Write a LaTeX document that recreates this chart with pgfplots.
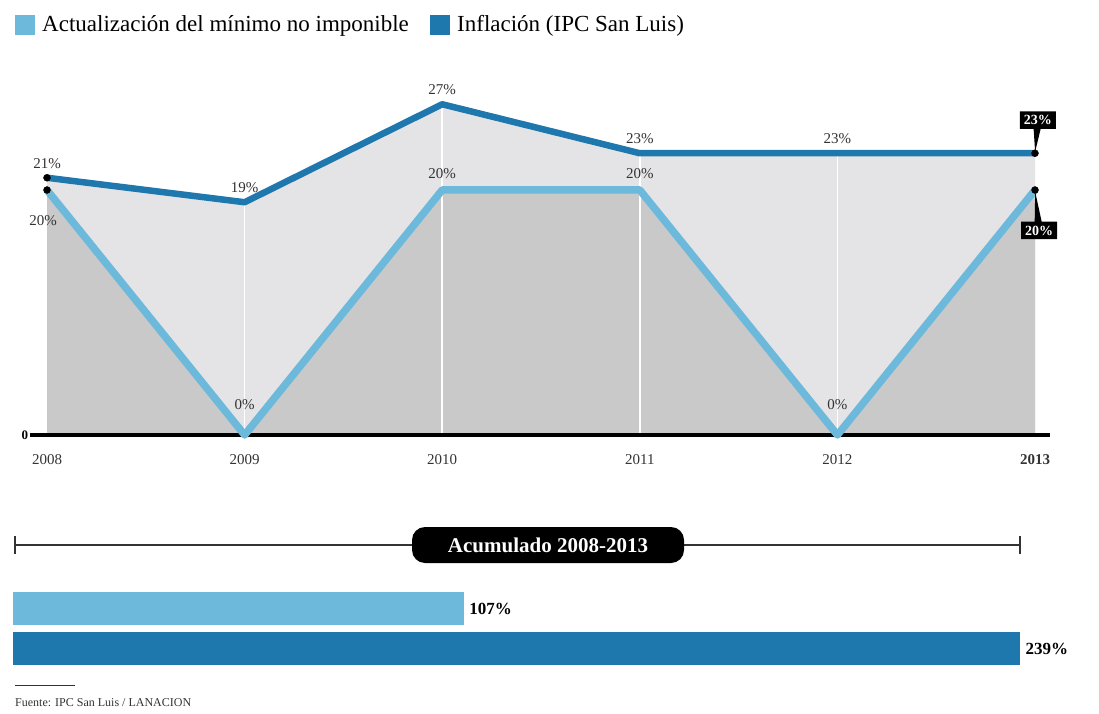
\documentclass[border=0pt]{standalone}
\usepackage{pgfplots}
\pgfplotsset{compat=1.18}
\usepackage{fontspec}
\setmainfont{Liberation Serif}
\usetikzlibrary{shapes.callouts}
\definecolor{lblue}{HTML}{6DB9DC}
\definecolor{dblue}{HTML}{1E77AD}
\definecolor{lgray}{HTML}{E4E4E6}
\definecolor{dgray}{HTML}{C9C9C9}
\pgfplotsset{
    pct/.style={nodes near coords={\pgfmathprintnumber{\pgfplotspointmeta}\%}},
    /pgf/number format/assume math mode=true,
}

\begin{document}
\begin{tikzpicture}
\path[use as bounding box] (0pt,0pt) rectangle (1099pt,713pt);

% legend
\fill[lblue] (15pt,678pt) rectangle (35pt,698pt);
\node[anchor=west, font=\fontsize{23}{23}\selectfont, inner sep=0pt] at (42pt,687pt) {Actualización del mínimo no imponible};
\fill[dblue] (430pt,678pt) rectangle (450pt,698pt);
\node[anchor=west, font=\fontsize{23}{23}\selectfont, inner sep=0pt] at (457pt,687pt) {Inflación (IPC San Luis)};

% yearly line chart
\begin{axis}[
    at={(47pt,278pt)}, anchor=south west,
    scale only axis, width=988pt, height=367.5pt,
    xmin=2008, xmax=2013, ymin=0, ymax=30,
    clip=false,
    axis line style={draw=none},
    major tick length=0pt,
    ytick=\empty,
    xtick={2008,2009,2010,2011,2012,2013},
    xticklabels={2008,2009,2010,2011,2012,\textbf{2013}},
    xticklabel style={font=\fontsize{15}{15}\selectfont, yshift=-16pt, text=black!80},
    every node near coord/.append style={font=\fontsize{15}{15}\selectfont, text=black!80},
]
\addplot[fill=lgray, draw=none] coordinates {(2008,21)(2009,19)(2010,27)(2011,23)(2012,23)(2013,23)} \closedcycle;
\addplot[fill=dgray, draw=none] coordinates {(2008,20)(2009,0)(2010,20)(2011,20)(2012,0)(2013,20)} \closedcycle;
\addplot[ycomb, white, line width=1.5pt, no marks] coordinates {(2009,19)(2010,27)(2011,23)(2012,23)};
\draw[black, line width=4pt] (axis cs:2007.914,0) -- (axis cs:2013.076,0);
\node[anchor=east, font=\bfseries\fontsize{13}{13}\selectfont, inner sep=0pt] at (axis cs:2007.905,0) {0};

\addplot[lblue, line width=7.5pt, line join=round, no marks] coordinates {(2008,20)(2009,0)(2010,20)(2011,20)(2012,0)(2013,20)};
\addplot[dblue, line width=6.5pt, line join=round, no marks] coordinates {(2008,21)(2009,19)(2010,27)(2011,23)(2012,23)(2013,23)};
\addplot[only marks, mark=*, mark size=3.5pt, black] coordinates {(2008,21)(2008,20)(2013,23)(2013,20)};

% value labels
\addplot[draw=none, pct, every node near coord/.append style={anchor=south, yshift=6pt}] coordinates {(2008,21)(2009,19)(2010,27)(2011,23)(2012,23)};
\addplot[draw=none, pct, every node near coord/.append style={anchor=north, xshift=-4pt, yshift=-22pt}] coordinates {(2008,20)};
\addplot[draw=none, pct, every node near coord/.append style={anchor=south, yshift=22pt}] coordinates {(2009,0)(2012,0)};
\addplot[draw=none, pct, every node near coord/.append style={anchor=south, yshift=8pt}] coordinates {(2010,20)(2011,20)};
\addplot[draw=none, pct, every node near coord/.append style={rectangle callout, fill=black, text=white, font=\bfseries\fontsize{14}{14}\selectfont, inner sep=4pt, callout relative pointer={(-2pt,-23pt)}, callout pointer width=7pt, anchor=pointer}] coordinates {(2013,23)};
\addplot[draw=none, pct, every node near coord/.append style={rectangle callout, fill=black, text=white, font=\bfseries\fontsize{14}{14}\selectfont, inner sep=4pt, callout relative pointer={(-3pt,30pt)}, callout pointer width=7pt, anchor=pointer}] coordinates {(2013,20)};
\end{axis}

% cumulative section
\draw[line width=1.2pt, black!80] (15pt,168pt) -- (1020pt,168pt);
\draw[line width=1.2pt, black!80] (15pt,159pt) -- (15pt,177pt);
\draw[line width=1.2pt, black!80] (1020pt,159pt) -- (1020pt,177pt);
\node[fill=black, rounded corners=13pt, text=white, font=\bfseries\fontsize{21}{21}\selectfont, minimum height=36pt, minimum width=272pt] at (548pt,168pt) {Acumulado 2008-2013};

\begin{axis}[
    at={(13pt,84.5pt)}, anchor=west,
    scale only axis, width=1007pt, height=80pt,
    xmin=0, xmax=239, ymin=-1, ymax=1,
    hide axis, clip=false,
    xbar, bar width=33pt, bar shift=0pt,
    pct,
    point meta=x,
    every node near coord/.append style={font=\bfseries\fontsize{17}{17}\selectfont, anchor=west, xshift=2pt},
]
\addplot[fill=lblue, draw=none] coordinates {(107,0.5)};
\addplot[fill=dblue, draw=none] coordinates {(239,-0.5)};
\end{axis}

% source
\draw[line width=1pt, black!80] (15pt,28pt) -- (75pt,28pt);
\node[anchor=west, font=\fontsize{12}{12}\selectfont, inner sep=0pt, text=black!80] at (15pt,10pt) {Fuente: IPC San Luis / LANACION};
\end{tikzpicture}
\end{document}
